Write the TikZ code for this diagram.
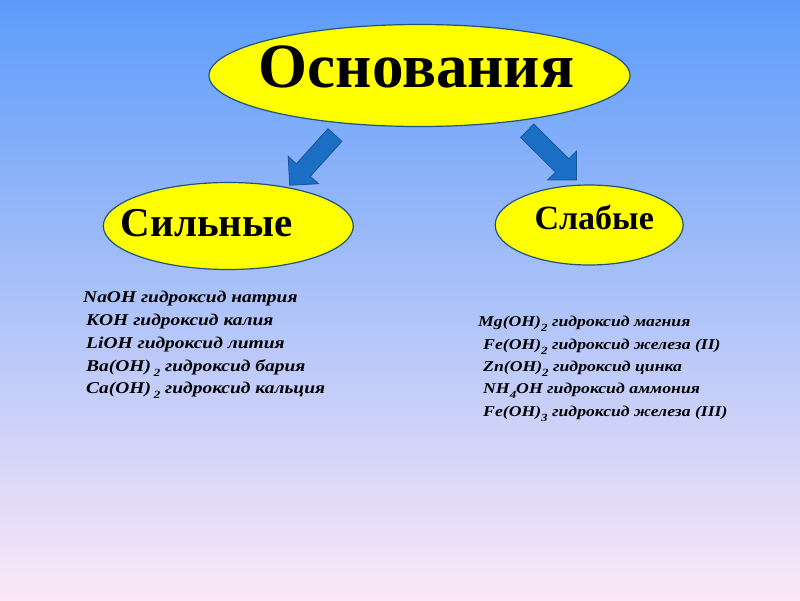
\documentclass[tikz,border=0pt]{standalone}
\usepackage{fontspec}
\setmainfont{Liberation Serif}
\newfontfamily\listfont[FakeStretch=1.18]{Liberation Serif}
\usetikzlibrary{shapes.geometric,shapes.arrows,calc}
\definecolor{skytop}{RGB}{92,156,250}
\definecolor{skymid}{RGB}{146,193,246}
\definecolor{skybot}{RGB}{252,232,248}
\definecolor{ovalfill}{RGB}{255,255,0}
\definecolor{ovaledge}{RGB}{30,84,125}
\definecolor{arrowfill}{RGB}{26,110,196}
\definecolor{arrowedge}{RGB}{22,84,150}
% text inside an oval: #1 = twice the x offset, #2 = baseline offset
\newcommand{\ovaltext}[3]{\makebox[0pt]{\hspace*{#1}\raisebox{#2}[0pt][0pt]{#3}}}
\newcommand{\lowidx}[1]{\raisebox{-5pt}{\fontsize{11}{11}\selectfont #1}}
\begin{document}
\begin{tikzpicture}[x=1pt,y=-1pt,
  oval/.style={ellipse,draw=ovaledge,line width=1.2pt,fill=ovalfill,inner sep=0pt,outer sep=0pt,font=\bfseries},
  blockarrow/.style={single arrow,draw=arrowedge,line width=0.8pt,fill=arrowfill,inner sep=9pt,
    minimum width=40pt,single arrow head extend=11pt,single arrow tip angle=90,outer sep=0pt},
  baselist/.style={anchor=north west,align=left,inner sep=0pt}]
\fill[top color=skytop,middle color=skymid,bottom color=skybot] (0,0) rectangle (800,600);
\node[oval,minimum width=421pt,minimum height=102pt] (bases) at (419.5,75.5)
  {\ovaltext{-6pt}{-12pt}{\fontsize{63}{63}\selectfont Основания}};
\node[oval,minimum width=250pt,minimum height=87pt] (strong) at (228.3,226)
  {\ovaltext{-43pt}{-10.7pt}{\fontsize{41}{41}\selectfont Сильные}};
\node[oval,minimum width=188pt,minimum height=80pt] (weak) at (589.2,225)
  {\ovaltext{10pt}{-4.3pt}{\fontsize{34}{34}\selectfont Слабые}};
% arrows from the top oval
\coordinate (strongTail) at ([yshift=-9pt]bases.-150);
\coordinate (strongTip) at ([yshift=7pt]strong.30);
\coordinate (weakTail) at ([yshift=-7.5pt]bases.-23);
\coordinate (weakTip) at ([yshift=9pt]weak.112);
\path let \p1=($(strongTip)-(strongTail)$) in
  node[blockarrow,rotate={atan2(\y1,\x1)},minimum height={veclen(\x1,\y1)}] (toStrong)
  at ($(strongTail)!0.5!(strongTip)$) {};
\path let \p1=($(weakTip)-(weakTail)$) in
  node[blockarrow,rotate={atan2(\y1,\x1)},minimum height={veclen(\x1,\y1)}] (toWeak)
  at ($(weakTail)!0.5!(weakTip)$) {};
% lists
\node[baselist,font=\listfont\bfseries\itshape\fontsize{16.5}{22.8}\selectfont] (strongList) at (83,291)
  {NaOH гидроксид натрия\\
   \hspace*{3pt}KOH гидроксид калия\\
   \hspace*{3pt}LiOH гидроксид лития\\
   \hspace*{3pt}Ba(OH)\,\lowidx{2} гидроксид бария\\
   \hspace*{3pt}Ca(OH)\,\lowidx{2} гидроксид кальция};
\node[baselist,font=\listfont\bfseries\itshape\fontsize{15}{22.4}\selectfont] (weakList) at (478,316)
  {Mg(OH)\lowidx{2} гидроксид магния\\
   \hspace*{5pt}Fe(OH)\lowidx{2} гидроксид железа (II)\\
   \hspace*{5pt}Zn(OH)\lowidx{2} гидроксид цинка\\
   \hspace*{5pt}NH\lowidx{4}OH гидроксид аммония\\
   \hspace*{5pt}Fe(OH)\lowidx{3} гидроксид железа (III)};
\end{tikzpicture}
\end{document}
